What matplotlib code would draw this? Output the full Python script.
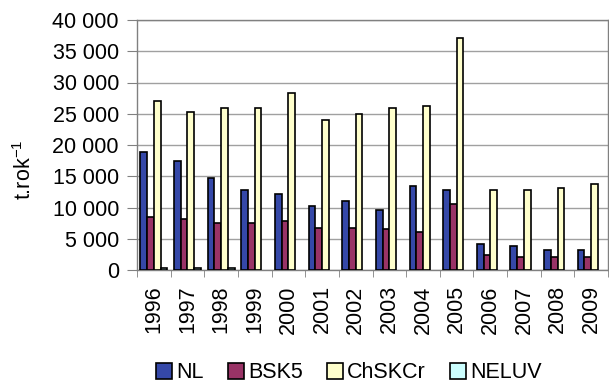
import numpy as np
import matplotlib.pyplot as plt
from matplotlib.ticker import FuncFormatter, FixedLocator

plt.rcParams['font.family'] = ['Liberation Sans', 'DejaVu Sans']

years = ['1996', '1997', '1998', '1999', '2000', '2001', '2002',
         '2003', '2004', '2005', '2006', '2007', '2008', '2009']
nl = [18900, 17500, 14800, 12750, 12100, 10200, 11100,
      9600, 13500, 12750, 4100, 3800, 3200, 3200]
bsk5 = [8500, 8200, 7600, 7600, 7900, 6800, 6800,
        6600, 6100, 10600, 2450, 2100, 2100, 2100]
chskcr = [27000, 25300, 26000, 26000, 28400, 24000, 25000,
          26000, 26300, 37200, 12750, 12750, 13100, 13800]
neluv = [300, 300, 300, 0, 0, 0, 0, 0, 0, 0, 0, 0, 0, 0]

series = [('NL', nl, '#3548a8'), ('BSK5', bsk5, '#993366'),
          ('ChSKCr', chskcr, '#ffffcc'), ('NELUV', neluv, '#ccffff')]

fs = 15.5
fig = plt.figure(figsize=(6.09, 3.85), dpi=100)
ax = fig.add_axes([137 / 609, 1 - 270 / 385, 471 / 609, 250 / 385])

x = np.arange(len(years))
w = 0.2
for k, (name, vals, col) in enumerate(series):
    # no outline on empty bars, otherwise they draw a black dash on the axis
    edges = ['black' if v > 0 else 'none' for v in vals]
    ax.bar(x - 0.3 + k * w, vals, w, color=col, edgecolor=edges, linewidth=1.2, label=name, zorder=3)

ax.set_xlim(-0.5, len(years) - 0.5)
ax.set_ylim(0, 40000)
ax.set_yticks(np.arange(0, 40001, 5000))
ax.yaxis.set_major_formatter(FuncFormatter(lambda v, p: f'{int(v):,}'.replace(',', ' ')))
ax.grid(axis='y', color='#a0a0a0', linewidth=1.0, zorder=0)

ax.set_xticks(x)
ax.set_xticklabels(years, rotation=90)
ax.xaxis.set_minor_locator(FixedLocator(np.arange(-0.5, len(years), 1)))
ax.tick_params(axis='x', which='major', length=0, pad=11, labelsize=fs)
ax.tick_params(axis='x', which='minor', length=5, color='#808080')
ax.tick_params(axis='y', length=7, color='#808080', labelsize=fs, pad=6)

for s in ax.spines.values():
    s.set_color('#808080')
    s.set_linewidth(1.0)

ax.set_ylabel('t.rok$^{\\mathregular{-1}}$', fontsize=fs)
ax.yaxis.set_label_coords(-0.215, 0.4)

handles, labels = ax.get_legend_handles_labels()
for h in handles:
    h.patches[0].set_edgecolor('black')
fig.legend(handles, labels, loc='center', bbox_to_anchor=(349 / 609, 1 - 373 / 385), ncol=4, frameon=False,
           fontsize=fs, handlelength=0.75, handleheight=0.75, handletextpad=0.2, columnspacing=1.1)

fig.savefig('out.png', dpi=100)
